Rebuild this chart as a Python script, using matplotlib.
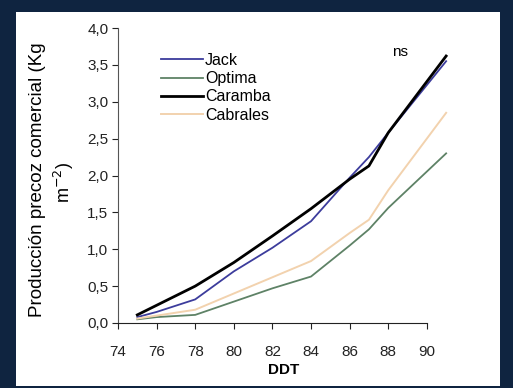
import matplotlib
matplotlib.use("Agg")
import matplotlib.pyplot as plt

plt.rcParams['font.family'] = ['Liberation Sans', 'DejaVu Sans']

ddt = [75, 76, 78, 80, 82, 84, 86, 87, 88, 91]
jack = [0.08, 0.15, 0.32, 0.70, 1.02, 1.38, 1.97, 2.25, 2.58, 3.55]
optima = [0.05, 0.08, 0.11, 0.29, 0.47, 0.63, 1.05, 1.27, 1.56, 2.30]
caramba = [0.11, 0.24, 0.50, 0.82, 1.18, 1.55, 1.95, 2.13, 2.58, 3.62]
cabrales = [0.06, 0.10, 0.18, 0.40, 0.62, 0.84, 1.22, 1.40, 1.80, 2.85]

xticks = [74, 76, 78, 80, 82, 84, 86, 88, 90]
yticks = [0.0, 0.5, 1.0, 1.5, 2.0, 2.5, 3.0, 3.5, 4.0]
ytick_labels = ["0,0", "0,5", "1,0", "1,5", "2,0", "2,5", "3,0", "3,5", "4,0"]

W, H = 513, 388
fig = plt.figure(figsize=(W / 100, H / 100), dpi=100)
fig.patch.set_facecolor('#0f2440')
bg = fig.add_axes([16 / W, 2 / H, (500 - 16) / W, (376 - 2) / H])
bg.set_facecolor('white')
bg.set_xticks([])
bg.set_yticks([])
for s in bg.spines.values():
    s.set_visible(False)
bg.set_zorder(0)

ax = fig.add_axes([118 / W, 1 - 323 / H, (450 - 118) / W, (323 - 28) / H])
ax.set_zorder(2)
ax.set_facecolor('none')

ax.plot(ddt, jack, color='#3c3c9c', lw=1.3, label='Jack')
ax.plot(ddt, optima, color='#5e8266', lw=1.3, label='Optima')
ax.plot(ddt, caramba, color='black', lw=2.0, label='Caramba')
ax.plot(ddt, cabrales, color='#f2d2ae', lw=1.4, label='Cabrales')

ax.set_xlim(74, 91.2)
ax.set_ylim(0, 4.0)
ax.spines['top'].set_visible(False)
ax.spines['right'].set_visible(False)
ax.spines['bottom'].set_bounds(74, 90)
ax.spines['left'].set_color('#555555')
ax.spines['bottom'].set_color('#222222')
ax.set_xticks(xticks)
ax.set_yticks(yticks)
ax.set_yticklabels(ytick_labels)
ax.tick_params(axis='both', labelsize=11, length=4, direction='out', colors='#222222')
ax.tick_params(axis='y', pad=3)
ax.tick_params(axis='x', pad=12)

ax.set_xlabel('DDT', fontsize=11, fontweight='bold', labelpad=3)

fig.text(38 / W, 1 - 180 / H, 'Producción precoz comercial (Kg', rotation=90,
         ha='center', va='center', fontsize=13.5)
fig.text(64 / W, 1 - 182 / H, 'm$^{-2}$)', rotation=90,
         ha='center', va='center', fontsize=13)

fig.text(400 / W, 1 - 52 / H, 'ns', fontsize=11, ha='center', va='center')

leg = ax.legend(loc='upper left', bbox_to_anchor=(161 / W, 1 - 53 / H),
                bbox_transform=fig.transFigure, frameon=False, fontsize=11.5,
                handlelength=2.6, handletextpad=0.15, labelspacing=0.2,
                borderpad=0, borderaxespad=0)

fig.savefig('out.png', dpi=100)
